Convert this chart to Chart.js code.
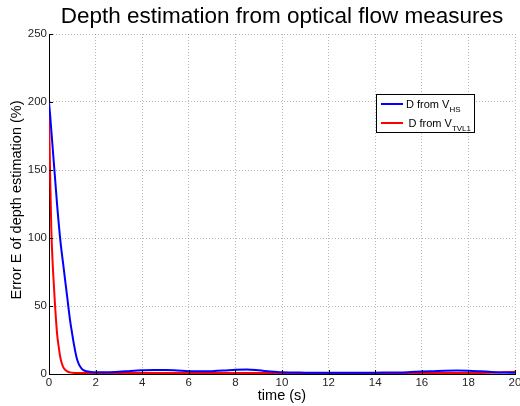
<!DOCTYPE html>
<html>
<head>
<meta charset="utf-8">
<script src="https://cdn.jsdelivr.net/npm/chart.js@4"></script>
<style>
  html, body { margin: 0; padding: 0; background: #fff; }
  #wrap { width: 520px; height: 406px; }
</style>
</head>
<body>
<div id="wrap"><canvas id="depthChart"></canvas></div>
<script>
// time samples (s), denser at the start where both errors fall fast
var times = [0, 0.05, 0.1, 0.15, 0.2, 0.25, 0.3, 0.35, 0.4, 0.5, 0.6, 0.7, 0.8, 0.9, 1.0,
  1.1, 1.2, 1.3, 1.4, 1.5, 1.6, 1.8, 2, 2.5, 3, 3.5, 4, 4.5, 5, 5.5, 6, 6.5, 7, 7.5, 8,
  8.5, 9, 9.5, 10, 11, 12, 13, 14, 15, 15.5, 16, 16.5, 17, 17.5, 18, 18.5, 19, 19.5, 20];

// error E (%) with D from V_HS
var errHS = [200, 190, 179, 168, 157, 146, 135, 124, 114, 96, 82, 68, 54, 40, 29,
  19, 11, 6.5, 4, 2.6, 2, 1.5, 1.3, 1.3, 1.6, 2.2, 2.7, 3, 3, 2.6, 2.1, 2, 2.1, 2.5, 3.1,
  3.3, 2.7, 1.8, 1.2, 1, 0.9, 0.9, 1, 1.1, 1.4, 1.8, 2.1, 2.4, 2.5, 2.4, 2, 1.5, 1.1, 0.9];

// error E (%) with D from V_TVL1
var errTVL1 = [193, 145, 106, 84, 68, 53, 40, 29, 22, 11, 5.5, 3, 1.8, 1.2, 0.9,
  0.8, 0.8, 0.7, 0.7, 0.7, 0.7, 0.7, 0.7, 0.7, 0.8, 0.8, 0.8, 0.8, 0.8, 0.8, 0.7, 0.7, 0.7, 0.7, 0.8,
  0.8, 0.8, 0.7, 0.6, 0.5, 0.5, 0.5, 0.5, 0.6, 0.7, 0.8, 0.8, 0.8, 0.8, 0.8, 0.8, 0.9, 1.2, 1.6];

var seriesNames = ['D from V', 'D from V'];
var seriesSubs = ['HS', 'TVL1'];
var seriesColors = ['#0000ff', '#ff0000'];

function toPoints(vals) {
  return times.map(function(t, i) { return {x: t, y: vals[i]}; });
}

var FONT = '"Liberation Sans", Arial, Helvetica, sans-serif';
var gridDots = 'rgba(0,0,0,0.28)';

// matlab style inward tick marks on the left and bottom axes
var inwardTicks = {
  id: 'inwardTicks',
  afterDatasetsDraw: function(chart) {
    var ctx = chart.ctx, a = chart.chartArea;
    var xs = chart.scales.x, ys = chart.scales.y;
    ctx.save();
    ctx.strokeStyle = '#000';
    ctx.lineWidth = 1;
    ctx.beginPath();
    xs.ticks.forEach(function(t) {
      var px = Math.round(xs.getPixelForValue(t.value)) + 0.5;
      ctx.moveTo(px, a.bottom);
      ctx.lineTo(px, a.bottom - 4);
    });
    ys.ticks.forEach(function(t) {
      var py = Math.round(ys.getPixelForValue(t.value)) + 0.5;
      ctx.moveTo(a.left, py);
      ctx.lineTo(a.left + 4, py);
    });
    ctx.stroke();
    ctx.restore();
  }
};

// boxed legend with subscripts
var subLegend = {
  id: 'subLegend',
  afterDraw: function(chart) {
    var ctx = chart.ctx, a = chart.chartArea;
    var bx = a.right - 139, by = a.top + 60, bw = 98, bh = 38;
    ctx.save();
    ctx.fillStyle = '#fff';
    ctx.fillRect(bx, by, bw, bh);
    ctx.strokeStyle = '#000';
    ctx.lineWidth = 1;
    ctx.strokeRect(bx + 0.5, by + 0.5, bw, bh);
    chart.data.datasets.forEach(function(ds, i) {
      var ly = by + 10 + i * 19;
      ctx.strokeStyle = seriesColors[i];
      ctx.lineWidth = 2;
      ctx.beginPath();
      ctx.moveTo(bx + 5, ly);
      ctx.lineTo(bx + 27, ly);
      ctx.stroke();
      var tx = bx + 30 + i * 2.5;
      ctx.fillStyle = '#000';
      ctx.textBaseline = 'alphabetic';
      ctx.font = '11px ' + FONT;
      ctx.fillText(seriesNames[i], tx, ly + 4);
      var w = ctx.measureText(seriesNames[i]).width;
      ctx.font = '8px ' + FONT;
      ctx.fillText(seriesSubs[i], tx + w, ly + 8);
    });
    ctx.restore();
  }
};

var ctx = document.getElementById('depthChart').getContext('2d');
var chart = new Chart(ctx, {
  type: 'line',
  data: {
    datasets: [
      {
        label: seriesNames[0] + seriesSubs[0],
        data: toPoints(errHS),
        borderColor: seriesColors[0],
        borderWidth: 2,
        pointRadius: 0,
        cubicInterpolationMode: 'monotone',
        fill: false
      },
      {
        label: seriesNames[1] + seriesSubs[1],
        data: toPoints(errTVL1),
        borderColor: seriesColors[1],
        borderWidth: 2,
        pointRadius: 0,
        cubicInterpolationMode: 'monotone',
        fill: false
      }
    ]
  },
  options: {
    responsive: true,
    maintainAspectRatio: false,
    animation: false,
    layout: { padding: { left: 0, right: 5, top: 0, bottom: 0 } },
    plugins: {
      legend: { display: false },
      tooltip: { enabled: false },
      title: {
        display: true,
        text: 'Depth estimation from optical flow measures',
        fullSize: false,
        color: '#000',
        font: { family: FONT, size: 22.5, weight: 'normal', lineHeight: 1.2 },
        padding: { top: 3.5, bottom: 3.5 }
      }
    },
    scales: {
      x: {
        type: 'linear',
        min: 0,
        max: 20,
        ticks: { stepSize: 2, color: '#262626', padding: 2, maxRotation: 0,
          font: { family: FONT, size: 11.5 } },
        grid: { color: gridDots, lineWidth: 1, drawTicks: false },
        border: { display: true, color: '#000', width: 1, dash: [1, 2] },
        title: { display: true, text: 'time (s)', color: '#000',
          font: { family: FONT, size: 14.5, lineHeight: 1.2 }, padding: { top: 0, bottom: 1 } },
        afterFit: function(s) { s.height = 32; s.paddingLeft = 0; s.paddingRight = 0; }
      },
      y: {
        min: 0,
        max: 250,
        ticks: { stepSize: 50, color: '#262626', padding: 2,
          font: { family: FONT, size: 11.5 } },
        grid: { color: gridDots, lineWidth: 1, drawTicks: false },
        border: { display: true, color: '#000', width: 1, dash: [1, 2] },
        title: { display: true, text: '  Error E of depth estimation (%)', color: '#000',
          font: { family: FONT, size: 14.5, lineHeight: 1.2 }, padding: { top: 8, bottom: 0 } },
        afterFit: function(s) { s.width = 49; s.paddingTop = 0; s.paddingBottom = 0; }
      }
    }
  },
  plugins: [inwardTicks, subLegend]
});
</script>
</body>
</html>
